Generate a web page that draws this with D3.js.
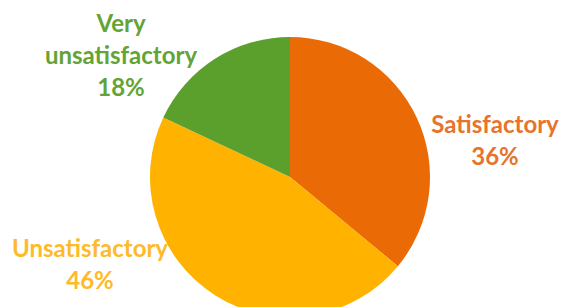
<!DOCTYPE html>
<html>
<head>
<meta charset="utf-8">
<script src="https://cdn.jsdelivr.net/npm/d3@7"></script>
<style>
  body { margin: 0; background: #fff; }
  .lbl { font-family: Lato, "Open Sans", sans-serif; font-weight: bold; font-size: 24px; }
</style>
</head>
<body>
<script>
const width = 562;
const height = 307;

const categories = ['Satisfactory', 'Unsatisfactory', 'Very unsatisfactory'];
const values = [36, 46, 18];
const sliceColors = ['#EA6B06', '#FFB300', '#5B9F2D'];
const textColors = ['#E7742A', '#FDBA2A', '#63A436'];

// label lines + anchor point (center x, first baseline)
const labelLines = [['Satisfactory'], ['Unsatisfactory'], ['Very', 'unsatisfactory']];
const labelPos = [{x: 495, y: 133}, {x: 90, y: 257}, {x: 121, y: 32}];
const lineGap = 32;

const svg = d3.select('body').append('svg')
    .attr('width', width)
    .attr('height', height);

const g = svg.append('g')
    .attr('transform', 'translate(290, 177)');

const pie = d3.pie().sort(null).value(d => d);
const arc = d3.arc().innerRadius(0).outerRadius(140);

g.selectAll('path')
    .data(pie(values))
    .enter()
    .append('path')
    .attr('d', arc)
    .attr('fill', (d, i) => sliceColors[i]);

categories.forEach(function(c, i) {
    const t = svg.append('text')
        .attr('class', 'lbl')
        .attr('text-anchor', 'middle')
        .attr('fill', textColors[i]);
    const lines = labelLines[i].concat([values[i] + '%']);
    lines.forEach(function(l, j) {
        t.append('tspan')
            .attr('x', labelPos[i].x)
            .attr('y', labelPos[i].y + j * lineGap)
            .text(l);
    });
});
</script>
</body>
</html>
